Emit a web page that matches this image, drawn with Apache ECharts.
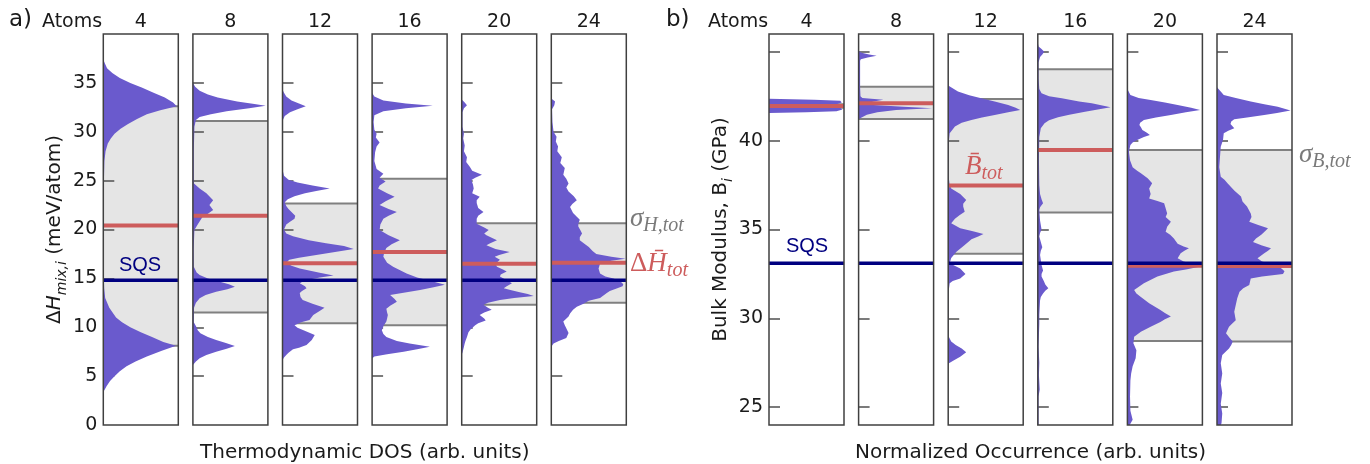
<!DOCTYPE html>
<html><head><meta charset="utf-8">
<script src="https://cdn.jsdelivr.net/npm/echarts@6/dist/echarts.min.js"></script>
<style>html,body{margin:0;padding:0;background:#fff}#c{width:1370px;height:464px}</style>
</head><body><div id="c"></div>
<script>
// ---------------- data ----------------
const atoms = ['4', '8', '12', '16', '20', '24'];

// panel a: mixing enthalpy (meV/atom)
const sqsH = 14.8;
const meanH = [20.4, 21.4, 16.55, 17.7, 16.5, 16.6];
const bandLowH = [8.1, 11.5, 10.4, 10.2, 12.3, 12.5];
const bandHighH = [32.6, 31.1, 22.65, 25.2, 20.65, 20.65];
const ticksH = [0, 5, 10, 15, 20, 25, 30, 35];

// panel b: bulk modulus (GPa)
const sqsB = 33.1;
const meanB = [41.95, 42.1, 37.47, 39.47, 32.96, 32.95];
const bandLowB = [41.85, 41.22, 33.64, 35.95, 28.73, 28.7];
const bandHighB = [42.05, 43.03, 42.34, 44.02, 39.47, 39.47];
const ticksB = [25, 30, 35, 40, 45];
const labelsB = [25, 30, 35, 40];

// density curves: [value, density (0..1 of panel width)]
const dosH4 = [[37.4,0],[37.0,0.02],[36.5,0.05],[36.0,0.12],[35.5,0.22],[35.0,0.36],[34.5,0.52],[34.0,0.67],[33.5,0.82],[33.0,0.93],[32.6,0.98],[32.2,0.76],[31.8,0.58],[31.3,0.45],[30.8,0.33],[30.3,0.23],[29.8,0.15],[29.3,0.1],[28.8,0.06],[28.0,0.03],[27.0,0.015],[25.0,0.008],[20.0,0.005],[15.0,0.008],[14.0,0.012],[13.0,0.025],[12.0,0.08],[11.0,0.17],[10.5,0.25],[10.0,0.36],[9.5,0.5],[9.0,0.65],[8.5,0.8],[8.1,0.97],[7.6,0.78],[7.0,0.58],[6.5,0.43],[6.0,0.31],[5.5,0.22],[5.0,0.15],[4.5,0.09],[4.0,0.045],[3.5,0.01],[3.3,0]];
const dosH8 = [[35.0,0],[34.6,0.03],[34.2,0.09],[33.8,0.2],[33.5,0.33],[33.1,0.59],[32.85,0.82],[32.65,0.97],[32.4,0.75],[32.1,0.45],[31.8,0.24],[31.5,0.09],[31.2,0.04],[30.5,0.02],[28.0,0.012],[25.0,0.012],[24.7,0.015],[24.2,0.09],[23.7,0.18],[23.0,0.27],[22.5,0.22],[22.0,0.27],[21.6,0.2],[21.3,0.13],[20.6,0.07],[19.95,0.02],[18.0,0.01],[16.2,0.012],[15.6,0.05],[15.35,0.09],[15.0,0.2],[14.66,0.36],[14.4,0.48],[14.15,0.56],[13.9,0.46],[13.64,0.31],[13.3,0.17],[12.96,0.09],[12.5,0.04],[12.0,0.015],[10.5,0.012],[10.06,0.045],[9.7,0.065],[9.38,0.1],[9.0,0.2],[8.7,0.31],[8.4,0.44],[8.08,0.56],[7.8,0.45],[7.5,0.31],[7.15,0.18],[6.82,0.09],[6.5,0.04],[6.14,0]];
const dosH12 = [[34.3,0],[34.0,0.02],[33.6,0.05],[33.2,0.12],[32.9,0.22],[32.6,0.31],[32.3,0.2],[32.0,0.1],[31.6,0.03],[31.2,0.005],[26.0,0.004],[25.5,0.02],[25.1,0.08],[24.8,0.2],[24.5,0.4],[24.2,0.63],[23.95,0.45],[23.7,0.3],[23.4,0.16],[23.1,0.07],[22.8,0.03],[22.4,0.05],[22.1,0.08],[21.8,0.12],[21.4,0.17],[21.1,0.16],[20.8,0.1],[20.5,0.05],[20.0,0.02],[19.6,0.05],[19.3,0.14],[18.9,0.35],[18.6,0.58],[18.3,0.82],[18.0,0.95],[17.7,0.7],[17.4,0.45],[17.1,0.22],[16.9,0.09],[16.6,0.05],[16.3,0.12],[16.0,0.23],[15.6,0.48],[15.3,0.68],[15.1,0.5],[14.8,0.3],[14.5,0.23],[14.2,0.3],[14.0,0.32],[13.7,0.26],[13.5,0.23],[13.1,0.24],[12.8,0.27],[12.4,0.4],[12.0,0.56],[11.7,0.5],[11.25,0.41],[10.74,0.36],[10.5,0.25],[10.2,0.16],[9.95,0.2],[9.7,0.28],[9.2,0.43],[8.7,0.39],[8.18,0.32],[7.9,0.22],[7.74,0.14],[7.4,0.08],[7.16,0.05],[6.9,0.02],[6.65,0]];
const dosH16 = [[34.0,0],[33.6,0.03],[33.2,0.15],[32.9,0.45],[32.65,0.81],[32.4,0.45],[32.1,0.15],[31.7,0.03],[31.0,0.02],[30.2,0.03],[29.8,0.06],[29.4,0.05],[28.9,0.1],[28.5,0.06],[27.9,0.04],[27.0,0.03],[26.2,0.06],[25.7,0.15],[25.3,0.1],[24.9,0.18],[24.5,0.1],[24.2,0.08],[23.7,0.2],[23.35,0.3],[22.9,0.18],[22.5,0.1],[22.1,0.22],[21.8,0.33],[21.4,0.22],[21.1,0.15],[20.5,0.11],[19.95,0.1],[19.4,0.22],[18.9,0.37],[18.5,0.26],[18.1,0.19],[17.6,0.16],[17.2,0.15],[16.6,0.2],[16.2,0.28],[15.8,0.38],[15.5,0.46],[15.1,0.6],[14.7,0.8],[14.35,0.97],[14.1,0.82],[13.8,0.64],[13.5,0.4],[13.3,0.24],[12.9,0.3],[12.6,0.33],[12.2,0.24],[11.9,0.19],[11.5,0.2],[11.25,0.21],[10.9,0.2],[10.6,0.19],[10.1,0.15],[9.7,0.13],[9.3,0.15],[9.0,0.19],[8.6,0.33],[8.35,0.5],[8.0,0.77],[7.75,0.6],[7.5,0.42],[7.25,0.2],[7.0,0.03],[6.8,0]];
const dosH20 = [[33.3,0],[33.0,0.04],[32.7,0.07],[32.4,0.03],[32.0,0.01],[30.5,0.01],[29.8,0.03],[29.3,0.02],[28.6,0.04],[28.0,0.03],[27.4,0.07],[26.9,0.06],[26.4,0.11],[26.0,0.14],[25.6,0.27],[25.3,0.18],[25.06,0.13],[24.6,0.15],[24.2,0.16],[23.7,0.14],[23.35,0.24],[23.0,0.2],[22.7,0.2],[22.2,0.22],[21.8,0.29],[21.4,0.22],[21.1,0.2],[20.6,0.2],[20.2,0.3],[19.95,0.36],[19.6,0.3],[19.4,0.33],[18.9,0.47],[18.6,0.38],[18.4,0.33],[18.0,0.45],[17.7,0.64],[17.4,0.5],[17.2,0.44],[16.9,0.51],[16.5,0.45],[16.2,0.47],[15.9,0.55],[15.7,0.6],[15.4,0.52],[15.2,0.51],[14.8,0.6],[14.5,0.67],[14.2,0.6],[14.0,0.56],[13.8,0.65],[13.6,0.76],[13.4,0.88],[13.2,0.96],[13.0,0.7],[12.8,0.51],[12.5,0.35],[12.3,0.29],[12.0,0.35],[11.8,0.4],[11.5,0.3],[11.25,0.24],[10.9,0.3],[10.7,0.32],[10.4,0.22],[10.2,0.18],[9.8,0.12],[9.5,0.09],[9.0,0.07],[8.6,0.05],[8.35,0.04],[8.0,0.03],[7.7,0.02],[7.4,0.01],[7.2,0]];
const dosH24 = [[33.4,0],[33.1,0.05],[32.7,0.04],[32.3,0.01],[31.0,0.015],[30.0,0.03],[29.5,0.07],[29.0,0.06],[28.5,0.09],[28.0,0.08],[27.4,0.14],[26.8,0.12],[26.3,0.18],[25.6,0.16],[25.2,0.2],[24.7,0.23],[24.3,0.2],[23.9,0.23],[23.4,0.3],[23.0,0.34],[22.6,0.28],[22.3,0.25],[21.7,0.29],[21.3,0.34],[21.0,0.38],[20.6,0.36],[20.3,0.36],[19.9,0.39],[19.6,0.41],[19.2,0.38],[18.9,0.38],[18.5,0.45],[18.2,0.5],[17.8,0.55],[17.5,0.6],[17.2,0.8],[17.0,0.99],[16.8,0.8],[16.5,0.65],[16.0,0.63],[15.5,0.65],[15.2,0.72],[15.0,0.83],[14.7,0.92],[14.4,0.96],[14.2,0.95],[14.0,0.88],[13.7,0.78],[13.5,0.74],[13.0,0.65],[12.7,0.5],[12.4,0.43],[12.1,0.34],[11.8,0.29],[11.4,0.25],[11.1,0.23],[10.6,0.16],[10.2,0.18],[9.9,0.2],[9.4,0.23],[8.9,0.2],[8.6,0.1],[8.35,0.03],[8.0,0]];

const occB4 = [[42.35,0],[42.3,0.6],[42.25,0.95],[42.15,0.97],[42.05,0.9],[41.95,0.85],[41.85,0.95],[41.75,0.98],[41.65,0.9],[41.6,0.5],[41.55,0]];
const occB8 = [[45.05,0],[44.95,0.04],[44.85,0.14],[44.77,0.24],[44.68,0.12],[44.58,0.03],[44.5,0.02],[43.5,0.02],[43.0,0.02],[42.5,0.025],[42.4,0.05],[42.3,0.33],[42.2,0.2],[42.1,0.12],[42.0,0.2],[41.9,0.6],[41.82,0.98],[41.72,0.5],[41.6,0.25],[41.45,0.11],[41.3,0.04],[41.2,0]];
const occB12 = [[43.1,0],[42.76,0.13],[42.55,0.28],[42.38,0.44],[42.2,0.62],[42.0,0.8],[41.85,0.9],[41.73,0.96],[41.6,0.8],[41.44,0.62],[41.3,0.45],[41.16,0.31],[41.0,0.18],[40.79,0.09],[40.41,0.02],[40.0,0.01],[38.0,0.005],[37.5,0.02],[37.3,0.04],[37.0,0.16],[36.66,0.24],[36.45,0.2],[36.3,0.2],[36.0,0.22],[35.8,0.15],[35.6,0.09],[35.35,0.04],[35.07,0.16],[34.9,0.33],[34.75,0.47],[34.6,0.4],[34.45,0.31],[34.13,0.22],[33.75,0.11],[33.4,0.04],[33.1,0.02],[32.8,0.16],[32.5,0.23],[32.25,0.16],[32.1,0.06],[31.97,0.02],[31.5,0.005],[29.0,0.005],[28.7,0.04],[28.5,0.1],[28.3,0.18],[28.1,0.24],[27.84,0.16],[27.6,0.06],[27.47,0.01],[27.3,0]];
const occB16 = [[45.5,0],[45.3,0.01],[45.15,0.05],[45.0,0.085],[44.85,0.06],[44.7,0.03],[44.4,0.01],[43.5,0.01],[42.9,0.02],[42.66,0.05],[42.5,0.15],[42.38,0.32],[42.2,0.55],[42.1,0.72],[41.88,0.97],[41.75,0.8],[41.63,0.63],[41.45,0.42],[41.31,0.27],[41.15,0.15],[40.98,0.09],[40.7,0.04],[40.2,0.02],[39.0,0.015],[37.5,0.02],[37.0,0.03],[36.7,0.05],[36.47,0.07],[36.25,0.03],[36.1,0.02],[35.5,0.03],[35.0,0.05],[34.8,0.03],[34.6,0.02],[34.3,0.04],[34.0,0.06],[33.8,0.04],[33.56,0.03],[33.0,0.05],[32.7,0.07],[32.5,0.05],[32.35,0.05],[32.1,0.08],[31.9,0.1],[31.7,0.14],[31.55,0.1],[31.4,0.07],[31.2,0.04],[31.0,0.03],[30.2,0.02],[29.7,0.02],[28.4,0.01],[27.5,0.02],[26.8,0.015],[26.0,0.025],[25.6,0.01],[24.5,0.01],[24.0,0.01]];
const occB20 = [[42.9,0],[42.57,0.04],[42.4,0.15],[42.29,0.31],[42.15,0.5],[42.0,0.67],[41.85,0.85],[41.73,0.97],[41.6,0.78],[41.44,0.58],[41.3,0.38],[41.16,0.22],[41.0,0.17],[40.88,0.16],[40.75,0.18],[40.6,0.2],[40.45,0.26],[40.32,0.3],[40.2,0.22],[40.04,0.13],[39.9,0.07],[39.76,0.04],[39.38,0.02],[38.9,0.035],[38.5,0.07],[38.3,0.13],[38.16,0.18],[37.88,0.27],[37.6,0.33],[37.3,0.29],[37.0,0.31],[36.75,0.29],[36.6,0.4],[36.47,0.49],[36.2,0.51],[35.9,0.53],[35.7,0.51],[35.44,0.58],[35.16,0.53],[34.88,0.51],[34.7,0.57],[34.5,0.62],[34.2,0.67],[34.05,0.75],[33.94,0.82],[33.8,0.76],[33.66,0.71],[33.38,0.67],[33.2,0.75],[33.05,0.9],[32.9,0.96],[32.75,0.78],[32.63,0.62],[32.35,0.4],[32.15,0.3],[31.97,0.22],[31.6,0.09],[31.4,0.12],[31.2,0.18],[30.85,0.29],[30.47,0.44],[30.3,0.5],[30.1,0.58],[29.95,0.5],[29.8,0.44],[29.53,0.31],[29.25,0.18],[28.97,0.09],[28.6,0.08],[28.2,0.12],[27.75,0.11],[27.3,0.07],[26.9,0.05],[26.5,0.04],[25.6,0.035],[24.8,0.04],[24.3,0.07],[24.0,0.03]];
const occB24 = [[43.0,0],[42.57,0.09],[42.4,0.25],[42.2,0.45],[42.05,0.63],[41.9,0.81],[41.69,0.98],[41.55,0.8],[41.44,0.63],[41.3,0.4],[41.2,0.23],[41.07,0.19],[40.94,0.18],[40.8,0.21],[40.7,0.23],[40.55,0.15],[40.41,0.09],[40.04,0.08],[39.66,0.05],[39.1,0.04],[38.5,0.03],[37.97,0.05],[37.8,0.1],[37.6,0.14],[37.2,0.23],[36.85,0.32],[36.57,0.34],[36.3,0.4],[35.9,0.45],[35.7,0.46],[35.44,0.43],[35.25,0.55],[35.07,0.68],[34.9,0.64],[34.7,0.59],[34.5,0.52],[34.3,0.48],[34.1,0.6],[33.94,0.72],[33.8,0.68],[33.66,0.63],[33.38,0.54],[33.2,0.6],[33.0,0.78],[32.8,0.86],[32.65,0.9],[32.5,0.88],[32.35,0.6],[32.25,0.45],[31.88,0.43],[31.7,0.35],[31.5,0.3],[31.13,0.27],[30.75,0.25],[30.37,0.23],[29.9,0.25],[29.7,0.2],[29.53,0.16],[29.16,0.12],[28.9,0.17],[28.7,0.21],[28.5,0.19],[28.3,0.16],[27.94,0.07],[27.47,0.05],[26.9,0.07],[26.34,0.05],[25.8,0.07],[25.2,0.05],[24.65,0.07],[24.1,0.06],[24.0,0.05]];

const curvesH = [dosH4, dosH8, dosH12, dosH16, dosH20, dosH24];
const curvesB = [occB4, occB8, occB12, occB16, occB20, occB24];

// ---------------- layout / style ----------------
const BLUE = '#6a5acd', RED = '#cd5c5c', NAVY = '#000080', GREYTXT = '#7a7a7a';
const TOP = 34, H = 391, W = 75, STEP = 89.6;
const LEFT_A = 103.3, LEFT_B = 769;
const SANS = 'DejaVu Sans', SERIF = 'Liberation Serif';

const grids = [], xAxes = [], yAxes = [], series = [], graphics = [];

function addPanel(left0, curves, means, lows, highs, sqs, yMin, yMax, tickVals, labelVals, yName, yRich, nameGap) {
  for (let i = 0; i < 6; i++) {
    const gi = grids.length;
    const left = left0 + i * STEP;
    grids.push({left: left, top: TOP, width: W, height: H, show: true, z: 10,
      backgroundColor: 'transparent', borderColor: '#404040', borderWidth: 1.5});
    xAxes.push({gridIndex: gi, type: 'value', min: 0, max: 1, show: false});
    const ya = {gridIndex: gi, type: 'value', min: yMin, max: yMax, z: 2,
      axisLine: {show: false}, splitLine: {show: false},
      axisTick: {show: true, inside: true, length: 11, customValues: tickVals,
        lineStyle: {color: '#505050', width: 1.5}},
      axisLabel: {show: i === 0, customValues: labelVals, fontSize: 19, color: '#1a1a1a',
        fontFamily: SANS, margin: 6}};
    if (i === 0) {
      ya.name = yName; ya.nameLocation = 'middle'; ya.nameRotate = 90; ya.nameGap = nameGap;
      ya.nameTextStyle = {fontSize: 20, fontFamily: SANS, color: '#1a1a1a', rich: yRich};
    }
    yAxes.push(ya);

    // sigma band
    series.push({type: 'custom', xAxisIndex: gi, yAxisIndex: gi, z: 1, silent: true,
      data: [[lows[i], highs[i]]],
      renderItem: function (params, api) {
        const lo = api.value(0), hi = api.value(1);
        const a = api.coord([0, hi]), b = api.coord([1, lo]);
        return {type: 'group', children: [
          {type: 'rect', shape: {x: a[0], y: a[1], width: b[0] - a[0], height: b[1] - a[1]}, style: {fill: '#e5e5e5'}},
          {type: 'line', shape: {x1: a[0], y1: a[1], x2: b[0], y2: a[1]}, style: {stroke: '#808080', lineWidth: 2}},
          {type: 'line', shape: {x1: a[0], y1: b[1], x2: b[0], y2: b[1]}, style: {stroke: '#808080', lineWidth: 2}}
        ]};
      }});

    // density curve
    const pts = curves[i];
    series.push({type: 'custom', xAxisIndex: gi, yAxisIndex: gi, z: 3, silent: true,
      data: pts.map(q => [q[1], q[0]]),
      renderItem: function (params, api) {
        if (params.dataIndex !== 0) return null;
        const poly = [api.coord([0, pts[0][0]])];
        pts.forEach(q => poly.push(api.coord([q[1], q[0]])));
        poly.push(api.coord([0, pts[pts.length - 1][0]]));
        return {type: 'polygon', shape: {points: poly}, style: {fill: BLUE}};
      }});

    // mean line and SQS line
    const hline = (val, color, width, z) => ({type: 'custom', xAxisIndex: gi, yAxisIndex: gi, z: z, silent: true,
      data: [[0, val]],
      renderItem: function (params, api) {
        const v = api.value(1);
        const a = api.coord([0, v]), b = api.coord([1, v]);
        return {type: 'line', shape: {x1: a[0], y1: a[1], x2: b[0], y2: b[1]}, style: {stroke: color, lineWidth: width}};
      }});
    series.push(hline(means[i], RED, 4, 4));
    series.push(hline(sqs, NAVY, 3.5, 5));

    graphics.push({type: 'text', x: left + W / 2, y: 22, style: {text: atoms[i], fontSize: 19, fontFamily: SANS,
      fill: '#1a1a1a', align: 'center', verticalAlign: 'middle'}});
  }
}

const subStyle = {fontSize: 14, fontStyle: 'italic', fontFamily: SANS, verticalAlign: 'bottom', lineHeight: 14, color: '#1a1a1a'};
addPanel(LEFT_A, curvesH, meanH, bandLowH, bandHighH, sqsH, 0, 40, [5, 10, 15, 20, 25, 30, 35], ticksH,
  '{n|Δ}{it|H}{sub|mix,i}{n| (meV/atom)}',
  {n: {fontSize: 20, fontFamily: SANS, lineHeight: 28, color: '#1a1a1a'},
   it: {fontSize: 20, fontFamily: SANS, fontStyle: 'italic', lineHeight: 28, color: '#1a1a1a'},
   sub: subStyle}, 34);
addPanel(LEFT_B, curvesB, meanB, bandLowB, bandHighB, sqsB, 24, 46, ticksB, labelsB,
  '{n|Bulk Modulus, B}{sub|i}{n| (GPa)}',
  {n: {fontSize: 20, fontFamily: SANS, lineHeight: 28, color: '#1a1a1a'}, sub: subStyle}, 33);

// panel labels & annotations
const txt = (x, y, text, opt) => Object.assign({type: 'text', x: x, y: y, z: 20,
  style: Object.assign({text: text, fontFamily: SANS, fontSize: 19, fill: '#1a1a1a', align: 'left', verticalAlign: 'middle'}, opt)});
graphics.push(txt(9, 20, 'a)', {fontSize: 23}));
graphics.push(txt(42, 22, 'Atoms'));
graphics.push(txt(666, 20, 'b)', {fontSize: 23}));
graphics.push(txt(708, 22, 'Atoms'));
graphics.push(txt(LEFT_A + (5 * STEP + W) / 2, 453, 'Thermodynamic DOS (arb. units)', {fontSize: 20, align: 'center'}));
graphics.push(txt(LEFT_B + (5 * STEP + W) / 2, 453, 'Normalized Occurrence (arb. units)', {fontSize: 20, align: 'center'}));
graphics.push(txt(140, 265, 'SQS', {fill: NAVY, fontFamily: 'Liberation Sans', fontSize: 20, align: 'center'}));
graphics.push(txt(807, 246, 'SQS', {fill: NAVY, fontFamily: 'Liberation Sans', fontSize: 20, align: 'center'}));

const mathRich = (color) => ({
  m: {fontFamily: SERIF, fontStyle: 'italic', fontSize: 27, lineHeight: 34, fill: color, color: color},
  u: {fontFamily: SERIF, fontSize: 27, lineHeight: 34, fill: color, color: color},
  s: {fontFamily: SERIF, fontStyle: 'italic', fontSize: 20, lineHeight: 20, verticalAlign: 'bottom', fill: color, color: color}
});
graphics.push(txt(630, 219, '{m|σ}{s|H,tot}', {rich: mathRich(GREYTXT), fill: GREYTXT}));
graphics.push(txt(630, 264, '{u|Δ}{m|H\u0304}{s|tot}', {rich: mathRich(RED), fill: RED}));
graphics.push(txt(965, 167, '{m|B\u0304}{s|tot}', {rich: mathRich(RED), fill: RED}));
graphics.push(txt(1299, 155, '{m|σ}{s|B,tot}', {rich: mathRich(GREYTXT), fill: GREYTXT}));

const chart = echarts.init(document.getElementById('c'), null, {renderer: 'canvas'});
chart.setOption({
  animation: false,
  backgroundColor: '#ffffff',
  grid: grids, xAxis: xAxes, yAxis: yAxes, series: series, graphic: graphics
});
</script></body></html>
